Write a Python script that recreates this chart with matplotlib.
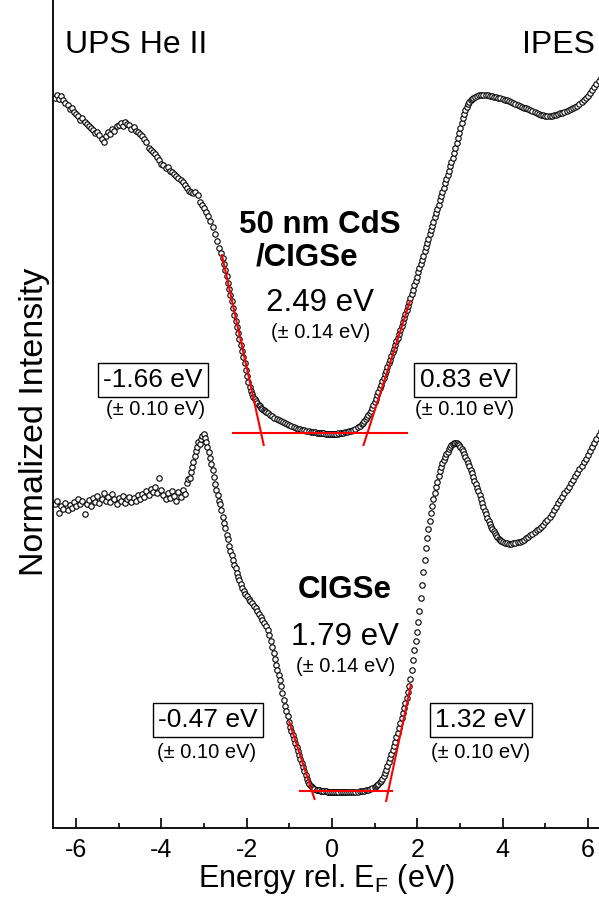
import numpy as np
import matplotlib
matplotlib.use("Agg")
import matplotlib.pyplot as plt
from matplotlib.ticker import MultipleLocator

plt.rcParams['font.family'] = ['Liberation Sans', 'DejaVu Sans']
plt.rcParams['axes.unicode_minus'] = False

# ---- top spectrum: 50 nm CdS / CIGSe ----
ups_top_x = [-6.50, -6.45, -6.40, -6.35, -6.30, -6.25, -6.20, -6.15, -6.10, -6.05,
             -6.00, -5.95, -5.90, -5.85, -5.80, -5.75, -5.70, -5.65, -5.60, -5.55,
             -5.50, -5.45, -5.40, -5.35, -5.30, -5.25, -5.20, -5.15, -5.10, -5.05,
             -5.00, -4.95, -4.90, -4.85, -4.80, -4.75, -4.70, -4.65, -4.60, -4.55,
             -4.50, -4.45, -4.40, -4.35, -4.30, -4.25, -4.20, -4.15, -4.10, -4.05,
             -4.00, -3.95, -3.90, -3.85, -3.80, -3.75, -3.70, -3.65, -3.60, -3.55,
             -3.50, -3.45, -3.40, -3.35, -3.30, -3.25, -3.20, -3.15, -3.10, -3.05,
             -3.00, -2.95, -2.90, -2.85, -2.80, -2.75, -2.70, -2.65, -2.60,
             -2.56, -2.53, -2.50, -2.47, -2.44, -2.41, -2.38, -2.35, -2.32, -2.29,
             -2.26, -2.23, -2.20, -2.17, -2.14, -2.11, -2.08, -2.05, -2.02, -1.99,
             -1.96, -1.93, -1.90, -1.87, -1.84, -1.81, -1.78, -1.75, -1.72, -1.69,
             -1.66, -1.63, -1.60, -1.57, -1.54, -1.51,
             -1.45, -1.40, -1.35, -1.30, -1.25, -1.20, -1.15, -1.10, -1.05, -1.00,
             -0.95, -0.90, -0.85, -0.80, -0.75, -0.70, -0.65, -0.60, -0.55, -0.50,
             -0.45, -0.40, -0.35, -0.30, -0.25, -0.20, -0.15, -0.10, -0.05, 0.00,
             0.05, 0.10, 0.15, 0.20]
ups_top_y = [7.30, 7.33, 7.29, 7.32, 7.28, 7.25, 7.23, 7.19, 7.20, 7.16,
             7.14, 7.12, 7.08, 7.10, 7.06, 7.04, 7.02, 7.00, 6.98, 6.95,
             6.96, 6.93, 6.89, 6.86, 6.92, 6.96, 6.94, 6.99, 6.97, 7.02,
             7.03, 7.05, 7.02, 7.06, 7.04, 7.03, 6.99, 7.01, 6.97, 6.96,
             6.94, 6.92, 6.89, 6.86, 6.80, 6.78, 6.76, 6.74, 6.71, 6.68,
             6.64, 6.63, 6.60, 6.61, 6.57, 6.56, 6.54, 6.52, 6.50, 6.48,
             6.46, 6.43, 6.40, 6.37, 6.36, 6.35, 6.36, 6.33, 6.26, 6.23,
             6.20, 6.16, 6.12, 6.07, 6.01, 5.94, 5.87, 5.80, 5.75,
             5.70, 5.64, 5.58, 5.52, 5.45, 5.39, 5.33, 5.27, 5.20, 5.13,
             5.07, 5.01, 4.95, 4.89, 4.83, 4.77, 4.71, 4.65, 4.58, 4.52,
             4.46, 4.41, 4.37, 4.34, 4.31, 4.29, 4.27, 4.25, 4.23, 4.22,
             4.20, 4.19, 4.18, 4.17, 4.16, 4.15,
             4.13, 4.12, 4.10, 4.09, 4.08, 4.07, 4.06, 4.05, 4.04, 4.03,
             4.02, 4.01, 4.00, 3.99, 3.99, 3.98, 3.98, 3.97, 3.97, 3.96,
             3.96, 3.96, 3.95, 3.95, 3.95, 3.95, 3.94, 3.94, 3.94, 3.94,
             3.94, 3.94, 3.94, 3.95]

ipes_top_x = [-0.30, -0.25, -0.20, -0.15, -0.10, -0.05, 0.00, 0.05, 0.10, 0.15,
              0.20, 0.25, 0.30, 0.35, 0.40, 0.45, 0.50, 0.55, 0.60, 0.65,
              0.70, 0.73, 0.76, 0.79, 0.82, 0.85, 0.88, 0.91, 0.94, 0.97,
              1.00, 1.03, 1.06, 1.09, 1.12, 1.15, 1.18, 1.21, 1.24, 1.27,
              1.30, 1.33, 1.36, 1.39, 1.42, 1.45, 1.48, 1.51, 1.54, 1.57,
              1.60, 1.63, 1.66, 1.69, 1.72, 1.75, 1.78, 1.81, 1.84, 1.87,
              1.90, 1.93, 1.96, 1.99, 2.02, 2.05, 2.08, 2.11, 2.14, 2.17,
              2.20, 2.23, 2.26, 2.29, 2.32, 2.35, 2.38, 2.41, 2.44, 2.47,
              2.50, 2.53, 2.56, 2.59, 2.62, 2.65, 2.68, 2.71, 2.74, 2.77,
              2.80, 2.83, 2.86, 2.89, 2.92, 2.95, 2.98, 3.01, 3.04, 3.07,
              3.10, 3.13, 3.16, 3.19, 3.22, 3.25, 3.28, 3.31,
              3.35, 3.40, 3.45, 3.50, 3.55, 3.60, 3.65, 3.70, 3.75, 3.80,
              3.85, 3.90, 3.95, 4.00, 4.05, 4.10, 4.15, 4.20, 4.25, 4.30,
              4.35, 4.40, 4.45, 4.50, 4.55, 4.60, 4.65, 4.70, 4.75, 4.80,
              4.85, 4.90, 4.95, 5.00, 5.05, 5.10, 5.15, 5.20, 5.25, 5.30,
              5.35, 5.40, 5.45, 5.50, 5.55, 5.60, 5.65, 5.70, 5.75, 5.80,
              5.85, 5.90, 5.95, 6.00, 6.05, 6.10, 6.15, 6.20, 6.25, 6.30]
ipes_top_y = [3.95, 3.95, 3.95, 3.94, 3.94, 3.94, 3.94, 3.94, 3.94, 3.95,
              3.95, 3.95, 3.96, 3.96, 3.97, 3.97, 3.98, 3.99, 4.01, 4.02,
              4.04, 4.05, 4.07, 4.09, 4.11, 4.13, 4.15, 4.17, 4.20, 4.23,
              4.26, 4.29, 4.33, 4.36, 4.40, 4.43, 4.47, 4.50, 4.54, 4.57,
              4.61, 4.65, 4.68, 4.72, 4.76, 4.79, 4.83, 4.87, 4.90, 4.94,
              4.98, 5.02, 5.06, 5.10, 5.14, 5.18, 5.22, 5.26, 5.30, 5.34,
              5.38, 5.43, 5.47, 5.51, 5.56, 5.60, 5.64, 5.68, 5.72, 5.77,
              5.81, 5.85, 5.89, 5.94, 5.98, 6.02, 6.06, 6.11, 6.15, 6.19,
              6.23, 6.28, 6.32, 6.36, 6.40, 6.45, 6.49, 6.53, 6.57, 6.62,
              6.66, 6.70, 6.75, 6.80, 6.85, 6.90, 6.95, 7.00, 7.05, 7.10,
              7.14, 7.18, 7.21, 7.24, 7.26, 7.28, 7.29, 7.30,
              7.31, 7.32, 7.33, 7.33, 7.33, 7.33, 7.33, 7.32, 7.32, 7.31,
              7.31, 7.30, 7.30, 7.29, 7.28, 7.28, 7.27, 7.26, 7.25, 7.24,
              7.23, 7.22, 7.21, 7.20, 7.20, 7.19, 7.18, 7.17, 7.16, 7.15,
              7.14, 7.13, 7.13, 7.12, 7.12, 7.12, 7.12, 7.13, 7.13, 7.14,
              7.15, 7.15, 7.16, 7.17, 7.18, 7.19, 7.20, 7.21, 7.22, 7.24,
              7.26, 7.28, 7.30, 7.32, 7.35, 7.38, 7.41, 7.44, 7.47, 7.50]

# ---- bottom spectrum: CIGSe ----
ups_bot_x = [-6.50, -6.45, -6.40, -6.35, -6.30, -6.25, -6.20, -6.15, -6.10, -6.05,
             -6.00, -5.95, -5.90, -5.85, -5.80, -5.75, -5.70, -5.65, -5.60, -5.55,
             -5.50, -5.45, -5.40, -5.35, -5.30, -5.25, -5.20, -5.15, -5.10, -5.05,
             -5.00, -4.95, -4.90, -4.85, -4.80, -4.75, -4.70, -4.65, -4.60, -4.55,
             -4.50, -4.45, -4.40, -4.35, -4.30, -4.25, -4.20, -4.15, -4.10, -4.05,
             -4.00, -3.95, -3.90, -3.85, -3.80, -3.75, -3.70, -3.65, -3.60, -3.55,
             -3.50, -3.45, -3.40,
             -3.37, -3.34, -3.31, -3.28, -3.25, -3.22, -3.19, -3.16, -3.13, -3.10,
             -3.07, -3.04, -3.01, -2.98, -2.95, -2.92, -2.89, -2.86, -2.83, -2.80,
             -2.77, -2.74, -2.71, -2.68, -2.65, -2.62, -2.59, -2.56, -2.53, -2.50,
             -2.47, -2.44, -2.41, -2.38, -2.35, -2.32, -2.29, -2.26, -2.23, -2.20,
             -2.17, -2.14, -2.11,
             -2.07, -2.03, -1.99, -1.95, -1.91, -1.87, -1.83, -1.79, -1.75, -1.71,
             -1.67, -1.63, -1.59, -1.55, -1.51, -1.47, -1.43,
             -1.40, -1.37, -1.34, -1.31, -1.28, -1.25, -1.22, -1.19, -1.16, -1.13,
             -1.10, -1.07, -1.04, -1.01, -0.98, -0.95, -0.92, -0.89, -0.86, -0.83,
             -0.80, -0.77, -0.74, -0.71, -0.68, -0.65, -0.62, -0.59, -0.56, -0.53,
             -0.50, -0.47, -0.44, -0.41,
             -0.35, -0.30, -0.25, -0.20, -0.15, -0.10, -0.05, 0.00, 0.05, 0.10,
             0.15, 0.20, 0.25, 0.30]
ups_bot_y = [3.24, 3.27, 3.15, 3.22, 3.19, 3.25, 3.18, 3.23, 3.20, 3.26,
             3.22, 3.29, 3.24, 3.27, 3.14, 3.24, 3.28, 3.22, 3.30, 3.26,
             3.32, 3.25, 3.29, 3.35, 3.27, 3.31, 3.26, 3.34, 3.29, 3.24,
             3.30, 3.27, 3.32, 3.25, 3.29, 3.31, 3.26, 3.30, 3.27, 3.33,
             3.29, 3.34, 3.31, 3.37, 3.33, 3.39, 3.36, 3.41, 3.35, 3.50,
             3.38, 3.33, 3.29, 3.35, 3.30, 3.37, 3.32, 3.27, 3.36, 3.31,
             3.38, 3.34, 3.45,
             3.49, 3.50, 3.56, 3.61, 3.66, 3.72, 3.77, 3.81, 3.86, 3.84,
             3.89, 3.92, 3.94, 3.90, 3.86, 3.81, 3.76, 3.70, 3.64, 3.58,
             3.51, 3.44, 3.38, 3.33, 3.27, 3.24, 3.18, 3.11, 3.05, 3.00,
             2.93, 2.89, 2.82, 2.77, 2.73, 2.68, 2.63, 2.60, 2.55, 2.51,
             2.48, 2.44, 2.40,
             2.37, 2.34, 2.32, 2.29, 2.27, 2.25, 2.22, 2.20, 2.17, 2.14,
             2.11, 2.08, 2.05, 2.02, 1.98, 1.93, 1.87,
             1.81, 1.75, 1.69, 1.63, 1.58, 1.53, 1.48, 1.42, 1.35, 1.28,
             1.22, 1.17, 1.12, 1.06, 1.01, 0.97, 0.93, 0.89, 0.85, 0.81,
             0.77, 0.73, 0.69, 0.65, 0.61, 0.57, 0.53, 0.49, 0.46, 0.44,
             0.42, 0.41, 0.40, 0.39,
             0.38, 0.38, 0.37, 0.37, 0.37, 0.36, 0.36, 0.36, 0.36, 0.36,
             0.36, 0.36, 0.36, 0.36]

ipes_bot_x = [-0.35, -0.30, -0.25, -0.20, -0.15, -0.10, -0.05, 0.00, 0.05, 0.10,
              0.15, 0.20, 0.25, 0.30, 0.35, 0.40, 0.45, 0.50, 0.55, 0.60,
              0.65, 0.70, 0.75, 0.80, 0.85, 0.90, 0.95, 1.00,
              1.03, 1.06, 1.09, 1.12, 1.15, 1.18, 1.21, 1.24, 1.27, 1.30,
              1.33, 1.36, 1.39, 1.42, 1.45, 1.48, 1.51, 1.54, 1.57, 1.60,
              1.63, 1.66, 1.69, 1.72, 1.75, 1.78, 1.81, 1.84, 1.87, 1.90,
              1.93, 1.96, 1.99, 2.02, 2.05, 2.08, 2.11, 2.14, 2.17, 2.20,
              2.23, 2.26, 2.29, 2.32, 2.35, 2.38, 2.41, 2.44, 2.47, 2.50,
              2.53, 2.56, 2.59, 2.62, 2.65, 2.68, 2.71, 2.74, 2.77, 2.80,
              2.83, 2.86, 2.89, 2.92, 2.95, 2.98, 3.01, 3.04, 3.07, 3.10,
              3.13, 3.16, 3.19, 3.22, 3.25, 3.28, 3.31, 3.34, 3.37, 3.40,
              3.43, 3.46, 3.49, 3.52, 3.55, 3.58, 3.61, 3.64, 3.67, 3.70,
              3.73, 3.76, 3.79, 3.82, 3.85, 3.88, 3.91, 3.94, 3.97, 4.00,
              4.05, 4.10, 4.15, 4.20, 4.25, 4.30, 4.35, 4.40, 4.45, 4.50,
              4.55, 4.60, 4.65, 4.70, 4.75, 4.80, 4.85, 4.90, 4.95, 5.00,
              5.05, 5.10, 5.15, 5.20, 5.25, 5.30, 5.35, 5.40, 5.45, 5.50,
              5.55, 5.60, 5.65, 5.70, 5.75, 5.80, 5.85, 5.90, 5.95, 6.00,
              6.05, 6.10, 6.15, 6.20, 6.25, 6.30]
ipes_bot_y = [0.38, 0.38, 0.37, 0.37, 0.37, 0.36, 0.36, 0.36, 0.36, 0.36,
              0.36, 0.36, 0.36, 0.36, 0.36, 0.36, 0.36, 0.36, 0.36, 0.36,
              0.37, 0.37, 0.37, 0.38, 0.38, 0.39, 0.40, 0.41,
              0.42, 0.43, 0.44, 0.46, 0.47, 0.49, 0.52, 0.55, 0.58, 0.62,
              0.66, 0.70, 0.74, 0.78, 0.82, 0.86, 0.91, 0.95, 1.00, 1.05,
              1.10, 1.15, 1.20, 1.25, 1.30, 1.36, 1.42, 1.49, 1.58, 1.68,
              1.78, 1.87, 1.96, 2.06, 2.17, 2.30, 2.43, 2.56, 2.68, 2.80,
              2.90, 2.99, 3.07, 3.15, 3.22, 3.29, 3.35, 3.41, 3.46, 3.52,
              3.57, 3.61, 3.65, 3.68, 3.71, 3.74, 3.76, 3.79, 3.81, 3.83,
              3.84, 3.85, 3.85, 3.85, 3.84, 3.83, 3.81, 3.79, 3.77, 3.74,
              3.71, 3.68, 3.65, 3.62, 3.58, 3.55, 3.51, 3.47, 3.44, 3.40,
              3.37, 3.33, 3.29, 3.25, 3.21, 3.17, 3.14, 3.10, 3.07, 3.04,
              3.01, 2.99, 2.97, 2.95, 2.93, 2.91, 2.89, 2.88, 2.87, 2.86,
              2.85, 2.85, 2.84, 2.84, 2.85, 2.85, 2.86, 2.86, 2.87, 2.88,
              2.90, 2.91, 2.93, 2.94, 2.96, 2.98, 2.99, 3.01, 3.03, 3.06,
              3.08, 3.11, 3.14, 3.18, 3.21, 3.25, 3.28, 3.31, 3.35, 3.38,
              3.41, 3.45, 3.48, 3.52, 3.55, 3.59, 3.62, 3.66, 3.69, 3.73,
              3.77, 3.81, 3.85, 3.89, 3.93, 3.97]

# linear fits (red): [x0, x1], [y0, y1]
fit_lines = [
    ([-2.58, -1.60], [5.73, 3.83]),   # top VBM edge
    ([0.74, 1.83], [3.83, 5.27]),     # top CBM edge
    ([-2.32, 1.76], [3.95, 3.95]),    # top baseline
    ([-1.00, -0.41], [1.06, 0.29]),   # bottom VBM edge
    ([1.27, 1.85], [0.27, 1.43]),     # bottom CBM edge
    ([-0.75, 1.41], [0.37, 0.37]),    # bottom baseline
]

fig = plt.figure(figsize=(5.99, 8.98), dpi=100)
ax = fig.add_axes([53 / 599, 70 / 898, 546 / 599, 828 / 898])

mk = dict(ls='none', marker='o', ms=3.9, mfc='white', mec='black', mew=0.8)
for xs, ys in [(ups_top_x, ups_top_y), (ipes_top_x, ipes_top_y),
               (ups_bot_x, ups_bot_y), (ipes_bot_x, ipes_bot_y)]:
    ax.plot(xs, ys, **mk)

for xs, ys in fit_lines:
    ax.plot(xs, ys, color='red', lw=1.5, zorder=5)

ax.set_xlim(-6.54, 6.26)
ax.set_ylim(0, 8.28)
ax.set_yticks([])
ax.xaxis.set_major_locator(MultipleLocator(2))
ax.xaxis.set_minor_locator(MultipleLocator(1))
ax.tick_params(axis='x', which='major', direction='in', length=7, width=1.2,
               labelsize=18, pad=7)
ax.tick_params(axis='x', which='minor', direction='in', length=3.5, width=1.2)
for s in ['top', 'right']:
    ax.spines[s].set_visible(False)
for s in ['left', 'bottom']:
    ax.spines[s].set_linewidth(1.3)

ax.set_xlabel('Energy rel. E$_\\mathregular{F}$ (eV)', fontsize=22, labelpad=0)
ax.text(-0.033, 0.49, 'Normalized Intensity', transform=ax.transAxes,
        rotation=90, ha='center', va='center', fontsize=24.5)

ax.text(-6.26, 7.83, 'UPS He II', ha='left', va='center', fontsize=23)
ax.text(6.16, 7.83, 'IPES', ha='right', va='center', fontsize=23)

box = dict(boxstyle='square,pad=0.2', fc='white', ec='black', lw=1)
big, small = 19, 14.5

ax.text(-0.28, 6.03, '50 nm CdS', ha='center', va='center', fontsize=22.5, fontweight='bold')
ax.text(-0.59, 5.70, '/CIGSe', ha='center', va='center', fontsize=22.5, fontweight='bold')
ax.text(-0.28, 5.25, '2.49 eV', ha='center', va='center', fontsize=22.5)
ax.text(-0.26, 4.96, '(± 0.14 eV)', ha='center', va='center', fontsize=small)
ax.text(-4.19, 4.48, '-1.66 eV', ha='center', va='center', fontsize=big, bbox=box)
ax.text(-4.14, 4.18, '(± 0.10 eV)', ha='center', va='center', fontsize=small)
ax.text(3.12, 4.48, '0.83 eV', ha='center', va='center', fontsize=big, bbox=box)
ax.text(3.12, 4.18, '(± 0.10 eV)', ha='center', va='center', fontsize=small)

ax.text(0.30, 2.38, 'CIGSe', ha='center', va='center', fontsize=22.5, fontweight='bold')
ax.text(0.30, 1.91, '1.79 eV', ha='center', va='center', fontsize=22.5)
ax.text(0.33, 1.61, '(± 0.14 eV)', ha='center', va='center', fontsize=small)
ax.text(-2.91, 1.08, '-0.47 eV', ha='center', va='center', fontsize=big, bbox=box)
ax.text(-2.93, 0.75, '(± 0.10 eV)', ha='center', va='center', fontsize=small)
ax.text(3.49, 1.08, '1.32 eV', ha='center', va='center', fontsize=big, bbox=box)
ax.text(3.49, 0.75, '(± 0.10 eV)', ha='center', va='center', fontsize=small)

fig.savefig('out.png', dpi=100)
